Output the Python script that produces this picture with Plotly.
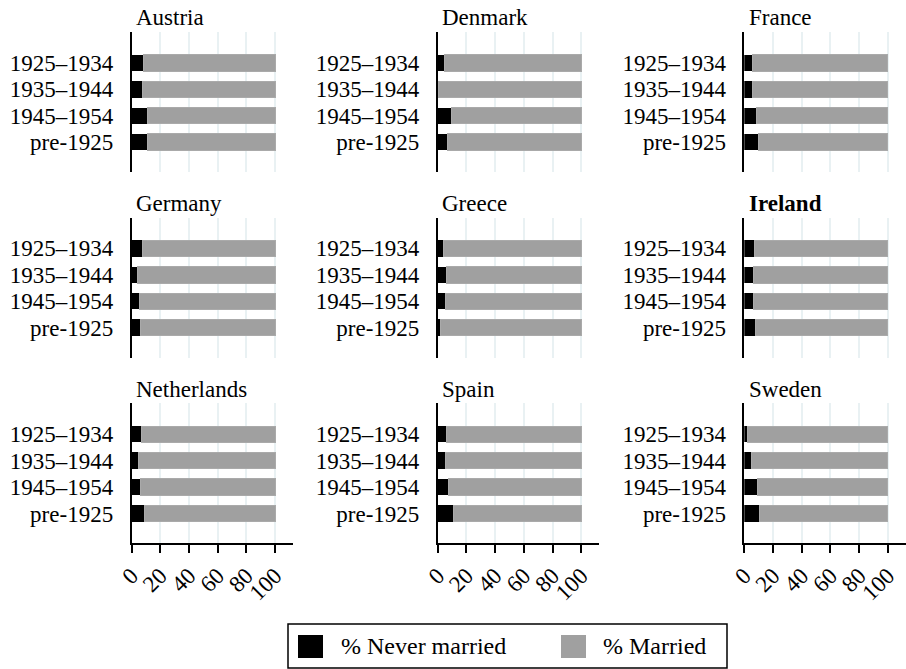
import plotly.graph_objects as go

W, H = 906, 669

countries = ["Austria", "Denmark", "France",
             "Germany", "Greece", "Ireland",
             "Netherlands", "Spain", "Sweden"]
cohorts = ["1925–1934", "1935–1944", "1945–1954", "pre-1925"]

never_austria = [8.2, 8.0, 11.3, 11.0]
never_denmark = [4.4, 0.5, 9.3, 6.5]
never_france = [5.6, 5.4, 8.4, 10.0]
never_germany = [8.0, 4.5, 5.9, 6.1]
never_greece = [4.2, 5.8, 5.6, 1.6]
never_ireland = [7.2, 6.5, 6.1, 7.7]
never_netherlands = [7.1, 5.2, 6.6, 9.2]
never_spain = [6.3, 5.1, 7.4, 11.2]
never_sweden = [2.4, 4.9, 8.9, 10.3]

never = [never_austria, never_denmark, never_france,
         never_germany, never_greece, never_ireland,
         never_netherlands, never_spain, never_sweden]
married = [[round(100 - v, 1) for v in s] for s in never]

x_ticks = [0, 20, 40, 60, 80, 100]

FONT = "Liberation Serif"
FS = 23
BLACK = "#000000"
GREY = "#a0a0a0"
GRID = "#e9f1f3"

col_px = [(131.5, 293.0), (437.7, 599.2), (744.3, 905.8)]
row_px = [(32.0, 172.0), (217.5, 357.5), (403.3, 543.3)]

fig = go.Figure()
annotations = []
shapes = []

for i, c in enumerate(countries):
    r, k = divmod(i, 3)
    n = i + 1
    xa = "x" if n == 1 else f"x{n}"
    ya = "y" if n == 1 else f"y{n}"
    fig.add_trace(go.Bar(y=cohorts, x=never[i], orientation="h", name="% Never married",
                         marker=dict(color=BLACK, line=dict(width=0)), width=0.62,
                         xaxis=xa, yaxis=ya, showlegend=False, hoverinfo="x+y"))
    fig.add_trace(go.Bar(y=cohorts, x=married[i], orientation="h", name="% Married",
                         marker=dict(color=GREY, line=dict(width=1, color="#aaaaaa")), width=0.62,
                         xaxis=xa, yaxis=ya, showlegend=False, hoverinfo="x+y"))
    x0, x1 = col_px[k]
    y0, y1 = row_px[r]
    bottom = (r == 2)
    xkey = "xaxis" if n == 1 else f"xaxis{n}"
    ykey = "yaxis" if n == 1 else f"yaxis{n}"
    fig.layout[xkey] = dict(domain=[x0 / W, x1 / W], range=[0, 112.5], anchor=ya,
                            tickmode="array", tickvals=x_ticks,
                            ticktext=[str(t) for t in x_ticks],
                            showticklabels=bottom, ticks="outside" if bottom else "",
                            ticklen=8, tickwidth=1.5, tickcolor="black",
                            showline=bottom, linecolor="black", linewidth=1.5,
                            showgrid=True, gridcolor=GRID, gridwidth=1.5,
                            zeroline=False, tickangle=-45, automargin=False,
                            tickfont=dict(family=FONT, size=FS, color="black"),
                            fixedrange=True)
    fig.layout[ykey] = dict(domain=[1 - y1 / H, 1 - y0 / H], anchor=xa,
                            type="category", categoryorder="array", categoryarray=cohorts,
                            tickmode="linear", tick0=0, dtick=1,
                            range=[4.13, -1.17], showline=True, linecolor="black",
                            linewidth=1.5, ticks="", showgrid=False, zeroline=False,
                            ticklabelstandoff=12, automargin=False,
                            tickfont=dict(family=FONT, size=FS, color="black"),
                            fixedrange=True)
    title = f"<b>{c}</b>" if c == "Ireland" else c
    annotations.append(dict(text=title, x=(x0 + 2.5) / W, y=1 - (y0 - 14) / H,
                            xref="paper", yref="paper", xanchor="left", yanchor="middle",
                            showarrow=False, font=dict(family=FONT, size=FS, color="black")))

# legend box
shapes.append(dict(type="rect", xref="paper", yref="paper",
                   x0=288 / W, x1=727 / W, y0=1 - 668 / H, y1=1 - 624 / H,
                   line=dict(color="black", width=1.5), fillcolor="white"))
shapes.append(dict(type="rect", xref="paper", yref="paper",
                   x0=298 / W, x1=323 / W, y0=1 - 658 / H, y1=1 - 635 / H,
                   line=dict(width=0), fillcolor=BLACK))
shapes.append(dict(type="rect", xref="paper", yref="paper",
                   x0=561 / W, x1=586 / W, y0=1 - 658 / H, y1=1 - 635 / H,
                   line=dict(width=0), fillcolor=GREY))
annotations.append(dict(text="% Never married", x=339 / W, y=1 - 646 / H, xref="paper", yref="paper",
                        xanchor="left", yanchor="middle", showarrow=False,
                        font=dict(family=FONT, size=24, color="black")))
annotations.append(dict(text="% Married", x=601 / W, y=1 - 646 / H, xref="paper", yref="paper",
                        xanchor="left", yanchor="middle", showarrow=False,
                        font=dict(family=FONT, size=24, color="black")))

fig.update_layout(width=W, height=H, margin=dict(l=0, r=0, t=0, b=0, autoexpand=False),
                  barmode="stack", paper_bgcolor="white", plot_bgcolor="white",
                  annotations=annotations, shapes=shapes, showlegend=False,
                  font=dict(family=FONT, size=FS, color="black"))

fig.write_html("out.html", config={"displayModeBar": False},
               post_script="document.body.style.margin='0px';")
